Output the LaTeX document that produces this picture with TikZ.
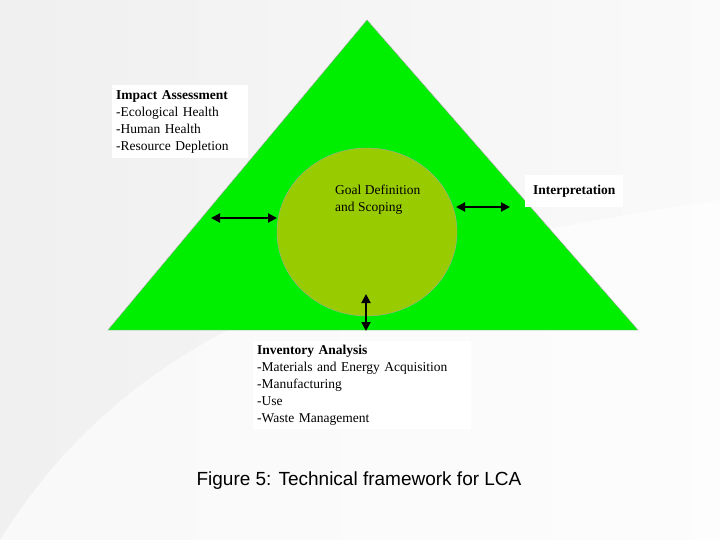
\documentclass[tikz,border=0pt]{standalone}
\usepackage{fontspec}
\setmainfont{Liberation Serif}
\newfontfamily\capfont{Liberation Sans}
\usetikzlibrary{arrows.meta,shapes.geometric}
\begin{document}
\begin{tikzpicture}[x=1pt,y=-1pt,
  tbox/.style={fill=white,inner sep=4pt,align=left,font=\fontsize{13.5}{17}\selectfont},
  dbl/.style={{Triangle[length=9pt,width=9pt]}-{Triangle[length=9pt,width=9pt]},line width=2pt}]
\fill[left color=gray!12,right color=gray!4] (0,0) rectangle (720,540);
\useasboundingbox (0,0) rectangle (720,540);
\fill[white,opacity=0.6] (0,540) .. controls (150,300) and (400,250) .. (720,200) -- (720,540) -- cycle;
\draw[gray!70,fill={rgb,255:red,0;green,238;blue,0}] (367,20) coordinate (apex) -- (638,330) coordinate (br) -- (108,330) coordinate (bl) -- cycle;
\node[draw=gray!70,fill={rgb,255:red,153;green,204;blue,0},ellipse,minimum width=180,minimum height=168,inner sep=0] (goal) at (367,232) {};
\node[anchor=north west,align=left,inner sep=0,font=\fontsize{13.5}{17}\selectfont] (goaltxt) at (335,185) {Goal Definition\\and Scoping};
\node[tbox,anchor=north west,minimum width=136,minimum height=73,text width=128] (impact) at (112,85) {\textbf{Impact Assessment}\\-Ecological Health\\-Human Health\\-Resource Depletion};
\node[tbox,anchor=north west,minimum width=98,minimum height=32] (interp) at (525,175) {\textbf{Interpretation}};
\node[tbox,anchor=north west,minimum width=218,minimum height=78,text width=210] (inv) at (253,341) {\textbf{Inventory Analysis}\\-Materials and Energy Acquisition\\-Manufacturing\\-Use\\-Waste Management};
\coordinate (l1) at (211,218); \coordinate (l2) at (277,218);
\coordinate (r1) at (456,207); \coordinate (r2) at (510,207);
\coordinate (v1) at (366,294); \coordinate (v2) at (366,331);
\draw[dbl] (l1) -- (l2);
\draw[dbl] (r1) -- (r2);
\draw[dbl] (v1) -- (v2);
\node[font=\capfont\fontsize{19}{22}\selectfont] (cap) at (359,481) {Figure 5: Technical framework for LCA};
\end{tikzpicture}
\end{document}
